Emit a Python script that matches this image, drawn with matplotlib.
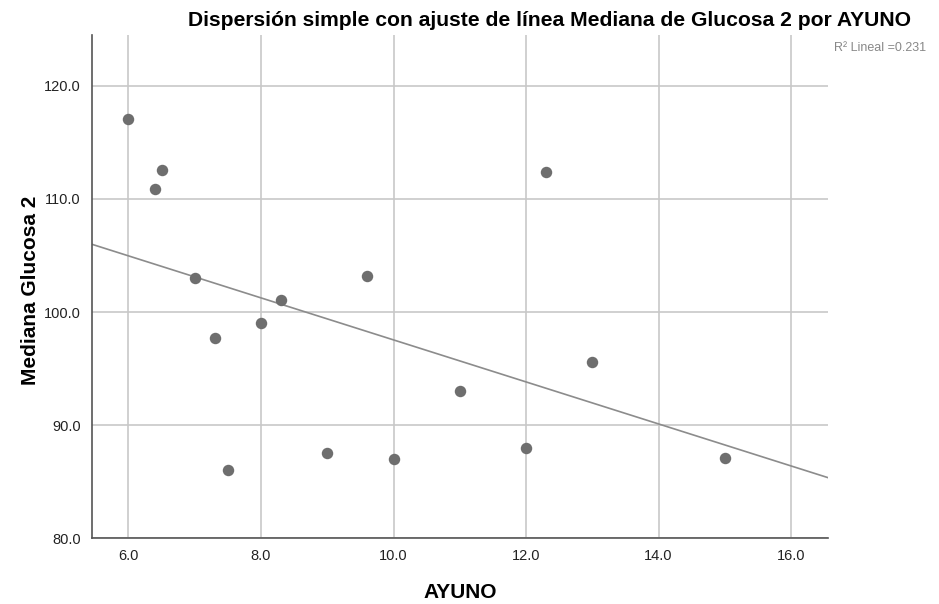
import numpy as np
from matplotlib import pyplot as plt

plt.rcParams['font.family'] = ['Liberation Sans', 'DejaVu Sans']

# valores
ayuno = [6.0, 6.4, 6.5, 7.0, 7.3, 7.5, 8.0, 8.3, 9.0, 9.6, 10.0, 11.0, 12.0, 12.3, 13.0, 15.0]
glucosa = [117.1, 110.9, 112.6, 103.0, 97.7, 86.0, 99.0, 101.1, 87.5, 103.2, 87.0, 93.0, 88.0, 112.4, 95.6, 87.1]
xticks = [6.0, 8.0, 10.0, 12.0, 14.0, 16.0]
yticks = [80.0, 90.0, 100.0, 110.0, 120.0]

x = np.array(ayuno)
y = np.array(glucosa)
slope, intercept = np.polyfit(x, y, 1)

fig = plt.figure(figsize=(9.39, 6.04), dpi=100)
ax = fig.add_axes([0.098, 0.109, 0.784, 0.833])

xlim = (5.45, 16.56)
ax.set_xlim(*xlim)
ax.set_ylim(80.0, 124.5)

ax.set_xticks(xticks)
ax.set_yticks(yticks)
ax.set_xticklabels([f'{t:.1f}' for t in xticks])
ax.set_yticklabels([f'{t:.1f}' for t in yticks])
ax.grid(True, color='#c8c8c8', linewidth=1.2)
ax.set_axisbelow(True)
ax.tick_params(length=0, labelsize=10.5, colors='#222222', pad=8)

for s in ['top', 'right']:
    ax.spines[s].set_visible(False)
for s in ['left', 'bottom']:
    ax.spines[s].set_color('#555555')
    ax.spines[s].set_linewidth(1.2)

xl = np.array(xlim)
ax.plot(xl, intercept + slope * xl, color='#8c8c8c', linewidth=1.2, zorder=2)
ax.scatter(x, y, s=68, color='#6e6e6e', zorder=3, linewidths=0)

fig.text(460 / 939, 1 - 593 / 604, 'AYUNO', ha='center', va='center',
         fontsize=15, fontweight='bold')
fig.text(31 / 939, 1 - 290 / 604, 'Mediana Glucosa 2', ha='center', va='center',
         rotation=90, fontsize=15, fontweight='bold')
fig.text(550 / 939, 0.966, 'Dispersión simple con ajuste de línea Mediana de Glucosa 2 por AYUNO',
         ha='center', va='center', fontsize=15.2, fontweight='bold')
fig.text(0.888, 0.92, 'R² Lineal =0.231', fontsize=9, color='#888888', va='center')

fig.savefig('out.png', dpi=100)
